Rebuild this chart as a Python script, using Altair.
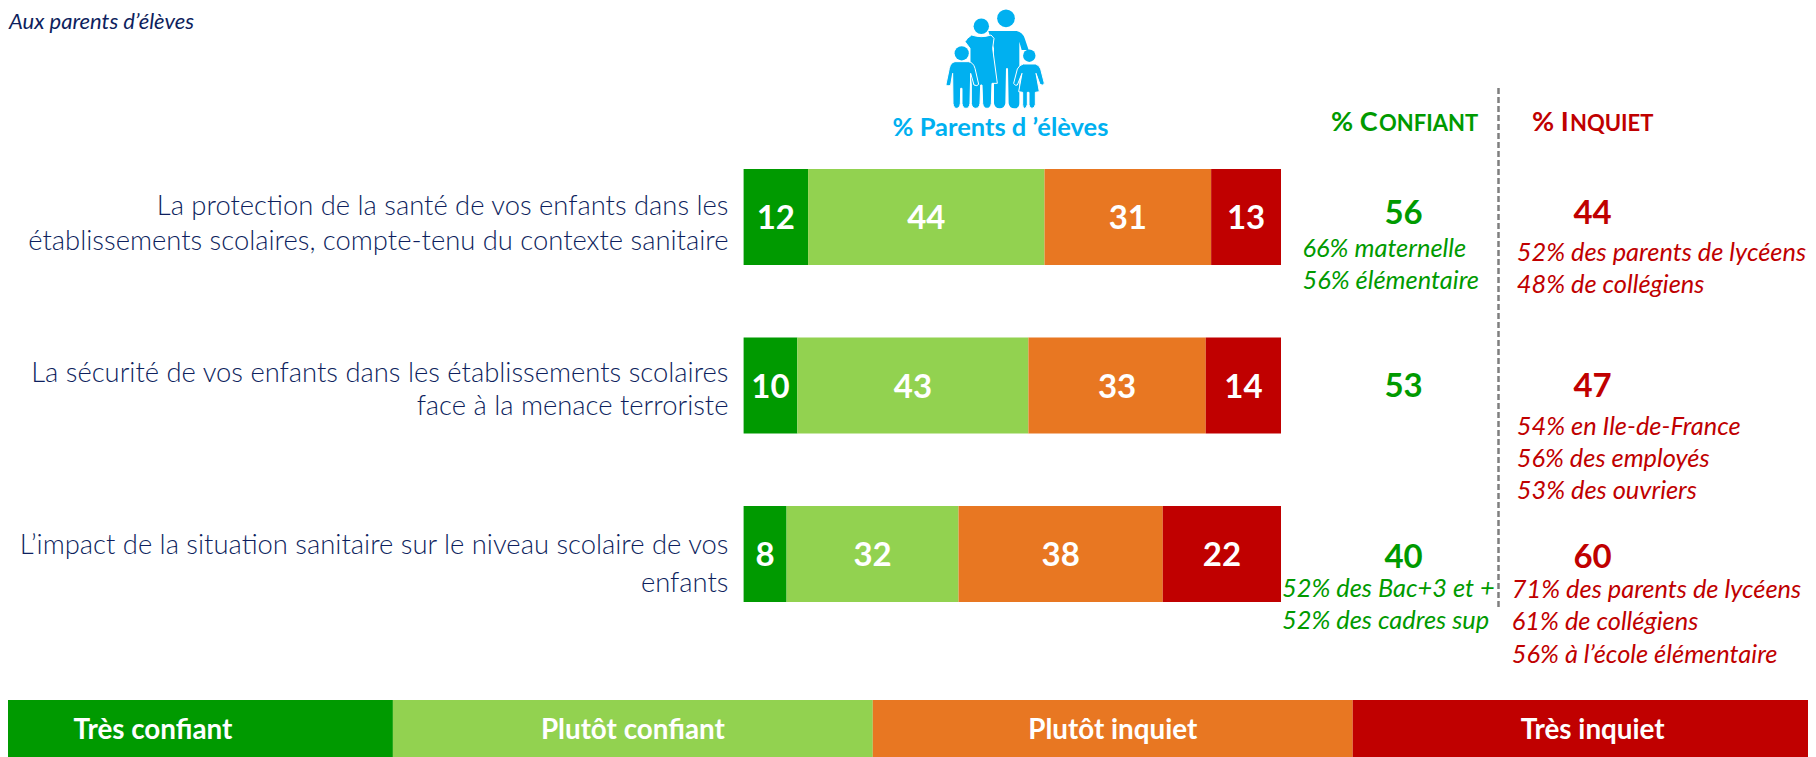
import re
import altair as alt
import pandas as pd

# ---- data ----
items = ["sante", "securite", "impact"]
series = ["Très confiant", "Plutôt confiant", "Plutôt inquiet", "Très inquiet"]
tres_confiant = [12, 10, 8]
plutot_confiant = [44, 43, 32]
plutot_inquiet = [31, 33, 38]
tres_inquiet = [13, 14, 22]
colors = ["#009A00", "#92D250", "#E87722", "#C00000"]
GREEN, RED, NAVY, CYAN = "#009A00", "#C00000", "#0E1F5E", "#00B0F0"
FONT = "Lato"

rows = []
for i, it in enumerate(items):
    start = 0
    for s, vals in zip(series, [tres_confiant, plutot_confiant, plutot_inquiet, tres_inquiet]):
        v = vals[i]
        rows.append({"item": it, "serie": s, "v": v, "start": start, "end": start + v, "mid": start + v / 2})
        start += v
bars_df = pd.DataFrame(rows)

O = 8  # page margin


def txt(t, x, y, size, color, weight="normal", style="normal", align="left"):
    return alt.Chart(pd.DataFrame({"t": [t]})).mark_text(
        font=FONT, fontSize=size, color=color, fontWeight=weight, fontStyle=style,
        align=align, baseline="middle",
    ).encode(x=alt.value(x - O), y=alt.value(y - O), text="t:N")


# ---- scales ----
xs = alt.Scale(domain=[0, 100], range=[743.6 - O, 1281 - O])
ys = alt.Scale(type="band", domain=items, range=[169 - O, 602 - O], paddingInner=0.43, paddingOuter=0)
cs = alt.Scale(domain=series, range=colors)
lx = alt.Scale(type="band", domain=series, range=[-87 - O, 1832.6 - O], paddingInner=0, paddingOuter=0)

bars = alt.Chart(bars_df).mark_bar().encode(
    x=alt.X("start:Q", scale=xs, axis=None),
    x2="end:Q",
    y=alt.Y("item:N", scale=ys, axis=None, sort=items),
    color=alt.Color("serie:N", scale=cs, legend=None),
)
bar_labels = alt.Chart(bars_df).mark_text(
    font=FONT, fontSize=33, fontWeight="bold", color="white", baseline="middle", dy=2
).encode(
    x=alt.X("mid:Q", scale=xs, axis=None),
    y=alt.Y("item:N", scale=ys, axis=None, sort=items),
    text="v:Q",
)

leg_df = pd.DataFrame({"serie": series})
legend_bar = alt.Chart(leg_df).mark_bar().encode(
    x=alt.X("serie:N", scale=lx, axis=None, sort=series),
    y=alt.value(700 - O),
    y2=alt.value(757 - O),
    color=alt.Color("serie:N", scale=cs, legend=None),
)
legend_txt = alt.Chart(leg_df).mark_text(
    font=FONT, fontSize=27.8, fontWeight="bold", color="white", baseline="middle"
).encode(
    x=alt.X("serie:N", scale=lx, axis=None, sort=series),
    y=alt.value(731 - O),
    text="serie:N",
)

divider = alt.Chart(pd.DataFrame({"a": [0]})).mark_rule(
    color="#7F7F7F", strokeWidth=2.5, strokeDash=[6, 3]
).encode(x=alt.value(1498.5 - O), y=alt.value(88 - O), y2=alt.value(608 - O))

# ---- family icon (custom symbol paths) ----
ICX, ICY, ICR = 225, 160, 160
DY = 5  # keeps the top of the icon inside the page margin


def unit(p):
    return re.sub(r"(-?\d+) (-?\d+)",
                  lambda m: f"{(int(m[1]) - ICX) / ICR:.4f},{(int(m[2]) - ICY) / ICR:.4f}", p)


father = "M 205 78 L 290 78 Q 308 82 314 100 L 326 135 L 305 135 L 298 110 L 298 295 Q 298 310 283 310 Q 268 310 266 295 L 264 190 L 258 190 L 256 295 Q 254 310 239 310 Q 224 310 222 295 L 222 130 Z"
mother = "M 155 90 Q 184 100 213 90 L 222 100 L 218 130 L 232 235 L 216 235 L 214 295 Q 212 310 201 310 Q 190 310 188 295 L 186 240 L 182 240 L 180 295 Q 178 310 167 310 Q 156 310 154 295 L 154 240 L 150 200 L 150 130 L 135 110 Q 140 100 155 90 Z"
kid_l = "M 105 170 L 145 170 Q 160 172 165 190 L 176 238 Q 172 245 162 240 L 152 205 L 150 295 Q 148 310 138 310 Q 128 310 126 295 L 126 250 L 122 250 L 121 295 Q 119 310 110 310 Q 101 310 99 295 L 98 205 L 92 240 Q 82 246 78 238 L 88 190 Q 92 172 105 170 Z"
kid_r = "M 310 177 L 346 177 Q 358 180 362 192 L 373 235 Q 368 244 360 238 L 348 205 L 358 260 L 346 262 L 346 298 Q 344 310 336 310 Q 328 310 327 298 L 327 262 L 322 262 L 322 298 Q 320 310 314 310 Q 308 310 308 298 L 308 262 L 296 260 L 306 205 L 292 240 Q 286 244 281 235 L 292 192 Q 298 180 310 177 Z"

one = pd.DataFrame({"a": [0]})


def body(path, outline):
    side = 2 * ICR / 3
    return alt.Chart(one).mark_point(
        shape=unit(path), size=side * side, filled=True, fill=CYAN, opacity=1,
        stroke="white" if outline else CYAN, strokeWidth=1 if outline else 0,
    ).encode(x=alt.value(920 + ICX / 3 - O), y=alt.value(ICY / 3 - O + DY))


def head(cx, cy, r):
    return alt.Chart(one).mark_circle(color=CYAN, opacity=1, size=3.1416 * r * r).encode(
        x=alt.value(cx - O), y=alt.value(cy - O + DY))


icon = [
    body(father, False), head(1006, 13.3, 10),
    body(mother, True), head(981.3, 21.3, 8.7),
    body(kid_l, True), head(961.7, 48.3, 8),
    body(kid_r, True), head(1029.3, 50.7, 7),
]

texts = [
    txt("Aux parents d’élèves", 9, 22, 22, NAVY, style="italic"),
    txt("% Parents d ’élèves", 1000.5, 128, 25.5, CYAN, weight="bold", align="center"),
    txt("% C", 1331, 123, 27, GREEN, weight="bold"),
    txt("ONFIANT", 1379, 124, 22, GREEN, weight="bold"),
    txt("% I", 1532, 123, 27, RED, weight="bold"),
    txt("NQUIET", 1570, 124, 22, RED, weight="bold"),
]
for t, y in [("La protection de la santé de vos enfants dans les", 207),
             ("établissements scolaires, compte-tenu du contexte sanitaire", 241.7),
             ("La sécurité de vos enfants dans les établissements scolaires", 373.5),
             ("face à la menace terroriste", 406.5),
             ("L’impact de la situation sanitaire sur le niveau scolaire de vos", 546),
             ("enfants", 584)]:
    texts.append(txt(t, 728.5, y, 27.4, NAVY, weight=300, align="right"))
for t, c, x, y in [("56", GREEN, 1403.6, 214), ("53", GREEN, 1403.6, 387), ("40", GREEN, 1403.6, 557.7),
                   ("44", RED, 1592.6, 214), ("47", RED, 1592.6, 387), ("60", RED, 1592.6, 557.7)]:
    texts.append(txt(t, x, y, 33, c, weight="bold", align="center"))
for t, c, x, y in [("66% maternelle", GREEN, 1302.5, 249), ("56% élémentaire", GREEN, 1302.5, 281),
                   ("52% des parents de lycéens", RED, 1516.7, 253), ("48% de collégiens", RED, 1516.7, 285),
                   ("54% en Ile-de-France", RED, 1516.7, 427), ("56% des employés", RED, 1516.7, 459),
                   ("53% des ouvriers", RED, 1516.7, 491),
                   ("52% des Bac+3 et +", GREEN, 1282, 589), ("52% des cadres sup", GREEN, 1282, 621),
                   ("71% des parents de lycéens", RED, 1511.8, 590), ("61% de collégiens", RED, 1511.8, 622),
                   ("56% à l’école élémentaire", RED, 1511.8, 655)]:
    texts.append(txt(t, x, y, 25.4, c, style="italic"))

chart = alt.layer(bars, bar_labels, legend_bar, legend_txt, divider, *icon, *texts).resolve_scale(
    x="independent", y="independent", color="independent"
).properties(
    width=1800, height=749, padding=0, autosize=alt.AutoSizeParams(type="none")
).configure_view(strokeWidth=0)

chart.save("out.html", embed_options={"renderer": "svg", "actions": False})
